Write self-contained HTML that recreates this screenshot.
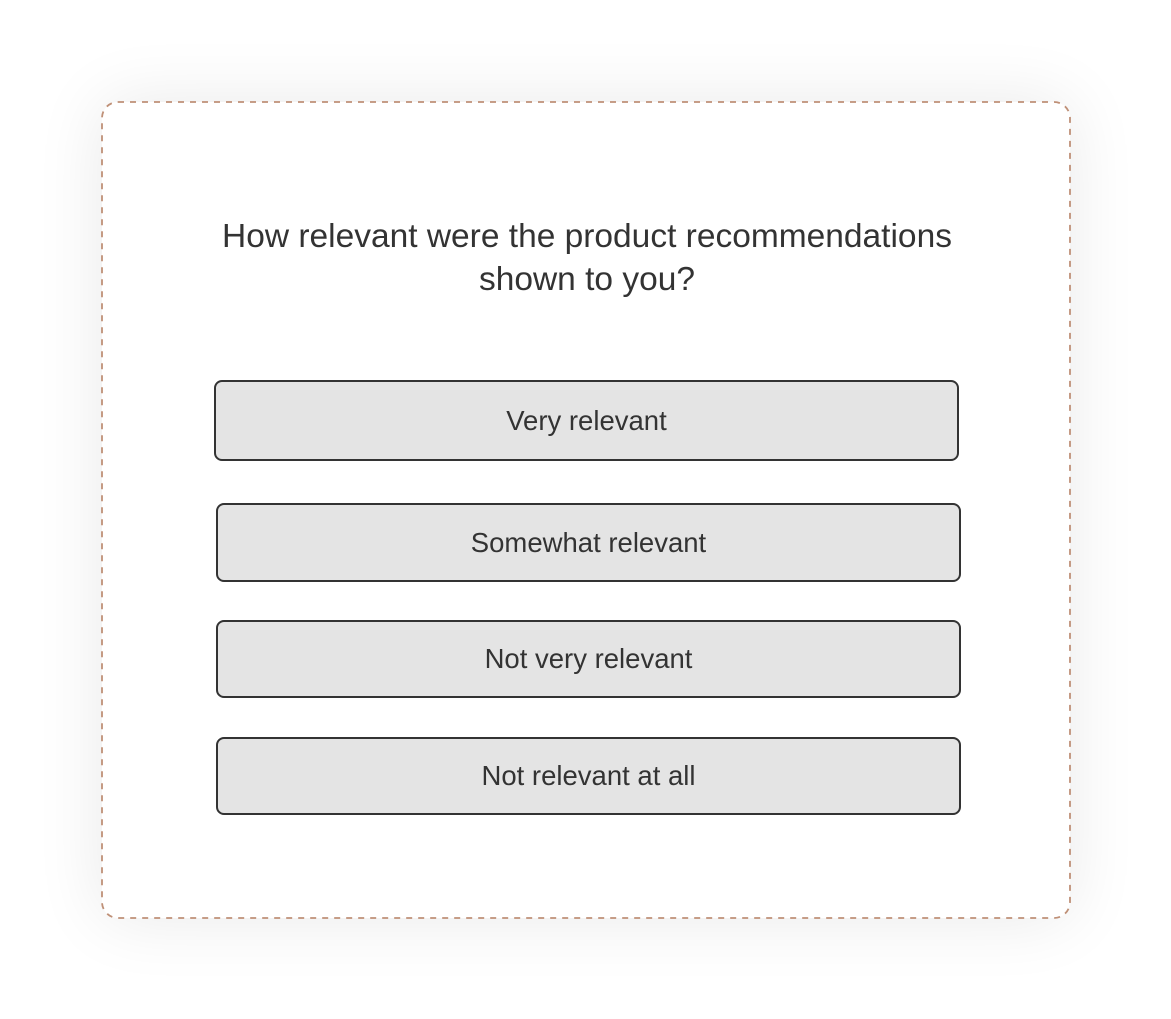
<!DOCTYPE html>
<html><head><style>
body{margin:0;width:1171px;height:1019px;background:#fff;position:relative;overflow:hidden;font-family:"Liberation Sans",sans-serif;color:#333}
.card{position:absolute;left:102px;top:102px;width:968px;height:816px;border-radius:16px;background:#fff;box-shadow:0 0 70px rgba(0,0,0,0.09)}
svg{position:absolute;left:0;top:0}
.q{position:absolute;left:102px;width:970px;top:215px;text-align:center;font-size:33.5px;line-height:43px;color:#333}
.b{position:absolute;box-sizing:border-box;border:2px solid #333;border-radius:8px;background:#e4e4e4;text-align:center;font-size:27.5px;color:#333;display:flex;align-items:center;justify-content:center}
</style></head><body>
<div class="card"></div>
<svg width="1171" height="1019"><rect x="102" y="102" width="968" height="816" rx="16" fill="none" stroke="#bf9077" stroke-width="1.8" stroke-dasharray="6 6"/></svg>
<div class="q">How relevant were the product recommendations<br>shown to you?</div>
<div class="b" style="left:214px;top:380px;width:745px;height:81px">Very relevant</div>
<div class="b" style="left:216px;top:503px;width:745px;height:79px">Somewhat relevant</div>
<div class="b" style="left:216px;top:620px;width:745px;height:78px">Not very relevant</div>
<div class="b" style="left:216px;top:737px;width:745px;height:78px">Not relevant at all</div>
</body></html>
